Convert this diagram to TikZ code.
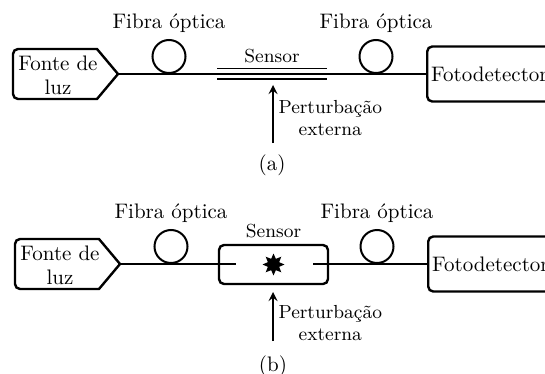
\documentclass[tikz,border=0pt]{standalone}
\usepackage{fontspec}
\usetikzlibrary{positioning,shapes,arrows}
\tikzset{%
	bobina/.style   = {draw, circle, minimum size=16.5pt, inner sep=0pt,
		line width=1pt, anchor=south},
	detector/.style = {draw, rectangle, rounded corners=2.5pt, anchor=west,
		minimum height=27.5pt, inner xsep=2pt, line width=1.2pt},
	caixa/.style    = {draw, rectangle, rounded corners=2.5pt,
		minimum height=19.5pt, minimum width=54.5pt, line width=1.2pt},
	fonte/.style    = {line width=1.2pt},
	rotulo/.style   = {font=\fontsize{9.45}{11}\selectfont, align=center}
}

\begin{document}
\begin{tikzpicture}[x=0.5pt, y=-0.5pt, line width=0.9pt, >=stealth,
	font=\fontsize{10.5}{12}\selectfont]
	\useasboundingbox (0,0) rectangle (545,374);
	\clip (0,0) rectangle (545,374);

	% (a) sensor de fibra intrinseco
	\draw[fonte] (118,74) -- (97,49) -- (40,49) [rounded corners=2.5pt] -- (13,49)
		-- (13,99) -- (40,99) [sharp corners] -- (97,99) -- cycle;
	\node[align=center] (luzA) at (58,75) {Fonte de\\luz};
	\coordinate (pontaA) at (118,74);
	\node[bobina] (bobA1) at (169,74) {};
	\node[above=-0.5pt of bobA1] (fibA1) {Fibra óptica};
	\node[minimum width=54pt, minimum height=4.5pt, inner sep=0pt] (sensorA) at (272,74) {};
	\node[rotulo, above=-1pt of sensorA] (nomeA) {Sensor};
	\node[bobina] (bobA2) at (376,74) {};
	\node[above=-0.5pt of bobA2] (fibA2) {Fibra óptica};
	\node[detector] (detA) at (426,74) {Fotodetector};

	\draw (pontaA) -- (detA.west);
	\draw (sensorA.north west) -- (sensorA.north east);
	\draw (sensorA.south west) -- (sensorA.south east);

	\coordinate (pertA) at (273,143);
	\coordinate (alvoA) at (273,85);
	\draw[->, line width=1pt] (pertA) -- (alvoA);
	\node[rotulo, anchor=west] (txtA) at (271,118) {Perturbação\\externa};
	\node (legA) at (272,165) {(a)};

	% (b) sensor de fibra extrinseco
	\draw[fonte] (120,264) -- (99,239) -- (40,239) [rounded corners=2.5pt] -- (15,239)
		-- (15,289) -- (40,289) [sharp corners] -- (99,289) -- cycle;
	\node[align=center] (luzB) at (60,265) {Fonte de\\luz};
	\coordinate (pontaB) at (120,264);
	\node[bobina] (bobB1) at (171,264) {};
	\node[above=-0.5pt of bobB1] (fibB1) {Fibra óptica};
	\node[caixa] (sensorB) at (273.5,264.5) {};
	\node[star, star points=8, star point ratio=1.8, fill, minimum size=11pt,
		inner sep=0pt] (estrela) at (sensorB.center) {};
	\node[rotulo, above=-1pt of sensorB] (nomeB) {Sensor};
	\node[bobina] (bobB2) at (377,264) {};
	\node[above=-0.5pt of bobB2] (fibB2) {Fibra óptica};
	\node[detector] (detB) at (427,264) {Fotodetector};

	\draw (pontaB) -- ([xshift=9pt]sensorB.west |- pontaB);
	\draw ([xshift=-8pt]sensorB.east |- pontaB) -- (detB.west);

	\coordinate (pertB) at (273,341);
	\coordinate (alvoB) at (273,292);
	\draw[->, line width=1pt] (pertB) -- (alvoB);
	\node[rotulo, anchor=west] (txtB) at (271,323) {Perturbação\\externa};
	\node (legB) at (273,366) {(b)};
\end{tikzpicture}
\end{document}
